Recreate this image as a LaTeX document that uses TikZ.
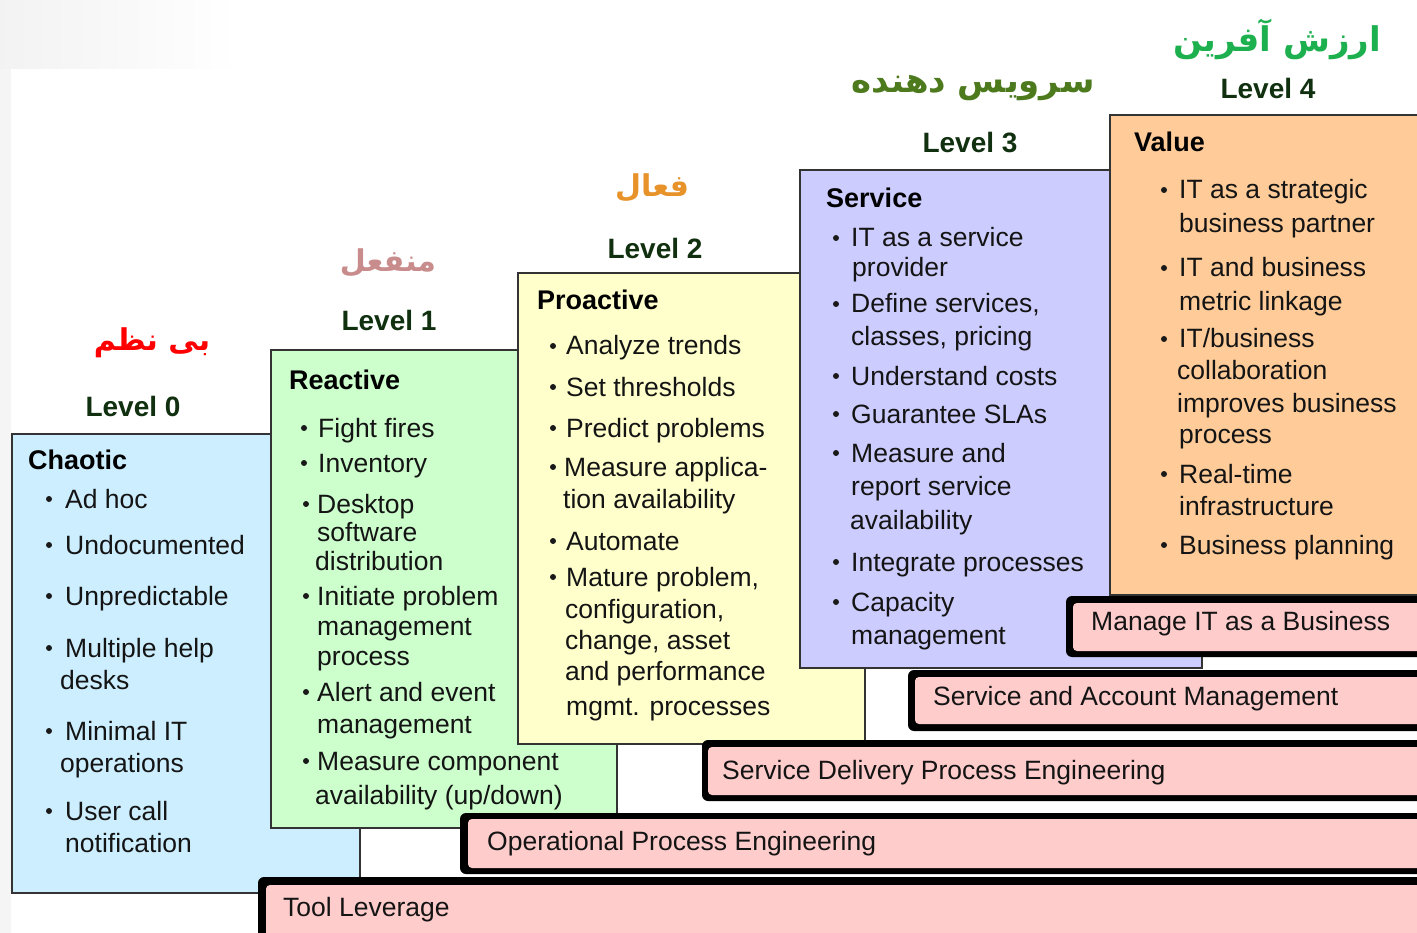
\documentclass[tikz,border=0pt]{standalone}
\usepackage{fontspec}
\setmainfont{Liberation Sans}
\newfontfamily\fa[Script=Arabic]{DejaVu Sans}
\TeXXeTstate=1
\definecolor{cblue}{HTML}{CCEEFF}
\definecolor{cgreen}{HTML}{CCFFCC}
\definecolor{cyellow}{HTML}{FFFFCC}
\definecolor{clav}{HTML}{CCCCFF}
\definecolor{corange}{HTML}{FFCC99}
\definecolor{cpink}{HTML}{FFCCCC}
\definecolor{lvl}{HTML}{103010}
\definecolor{fared}{HTML}{FF0000}
\definecolor{fapink}{HTML}{C88C8C}
\definecolor{faorange}{HTML}{E8922A}
\definecolor{faolive}{HTML}{4E7A1E}
\definecolor{fagreen}{HTML}{1DB04E}
\definecolor{bordc}{HTML}{333333}
\newcommand{\tl}[4]{\node[txt] (#1) at (#2,#3) {#4};}
\newcommand{\bul}[2]{\fill[black!90] (#1,#2) circle (3);}
\begin{document}
\begin{tikzpicture}[x=1pt,y=-1pt,
  txt/.style={anchor=base west,inner sep=0pt,font=\fontsize{26.5}{31}\selectfont,text=black!92},
  head/.style={anchor=base west,inner sep=0pt,font=\fontsize{27}{31}\selectfont\bfseries,text=black},
  lvlstyle/.style={inner sep=0pt,font=\fontsize{28}{32}\selectfont\bfseries,text=lvl},
  fastyle/.style={inner sep=0pt,font=\fontsize{34}{40}\selectfont\fa\bfseries},
  fasmall/.style={inner sep=0pt,font=\fontsize{30}{36}\selectfont\fa\bfseries},
  colbox/.style={draw=bordc,line width=1.6pt},
  barout/.style={fill=black,rounded corners=6pt},
  barin/.style={fill=cpink,rounded corners=4pt},
  bartxt/.style={anchor=west,inner sep=0pt,font=\fontsize{26.5}{31}\selectfont,text=black!92}]
\useasboundingbox (0,0) rectangle (1417,933);
% background
\fill[white] (0,0) rectangle (1417,933);
\shade[left color=black!5,right color=white] (0,0) rectangle (240,69);
\fill[black!4] (0,69) rectangle (11,933);
% column boxes
\filldraw[colbox,fill=cblue] (12,434) rectangle (360,893);
\filldraw[colbox,fill=cgreen] (271,350) rectangle (617,828);
\filldraw[colbox,fill=cyellow] (518,273) rectangle (865,744);
\filldraw[colbox,fill=clav] (800,170) rectangle (1202,668);
\filldraw[colbox,fill=corange] (1110,115) rectangle (1430,595);
% bars
\fill[barout] (1066,596) rectangle (1430,657);
\fill[barin] (1073,603) rectangle (1430,651);
\fill[barout] (908,670) rectangle (1430,731);
\fill[barin] (915,677) rectangle (1430,724);
\fill[barout] (702,740) rectangle (1430,801);
\fill[barin] (708,747) rectangle (1430,795);
\fill[barout] (460,813) rectangle (1430,874);
\fill[barin] (468,819) rectangle (1430,868);
\fill[barout] (258,877) rectangle (1430,945);
\fill[barin] (266,885) rectangle (1430,945);
\node[bartxt] (b4) at (1091,624) {Manage IT as a Business};
\node[bartxt] (b3) at (933,699) {Service and Account Management};
\node[bartxt] (b2) at (722,773) {Service Delivery Process Engineering};
\node[bartxt] (b1) at (487,844) {Operational Process Engineering};
\node[bartxt] (b0) at (283,910) {Tool Leverage};
% level labels
\node[lvlstyle] (lv0) at (133,406) {Level 0};
\node[lvlstyle] (lv1) at (389,320) {Level 1};
\node[lvlstyle] (lv2) at (655,248) {Level 2};
\node[lvlstyle] (lv3) at (970,143) {Level 3};
\node[lvlstyle] (lv4) at (1268,88) {Level 4};
\node[fasmall,text=fared] (fa0) at (152,343) {\beginR بی نظم\endR};
\node[fasmall,text=fapink] (fa1) at (388,263) {\beginR منفعل\endR};
\node[fasmall,text=faorange] (fa2) at (652,188) {\beginR فعال\endR};
\node[fastyle,text=faolive] (fa3) at (973,88) {\beginR سرویس دهنده\endR};
\node[fastyle,text=fagreen] (fa4) at (1277,39) {\beginR ارزش آفرین\endR};
% column 0
\node[head] (h0) at (28,469) {Chaotic};
\bul{49}{499}\tl{a1}{65}{508}{Ad hoc}
\bul{49}{545}\tl{a2}{65}{554}{Undocumented}
\bul{49}{596}\tl{a3}{65}{605}{Unpredictable}
\bul{49}{648}\tl{a4}{65}{657}{Multiple help}
\tl{a5}{60}{689}{desks}
\bul{49}{731}\tl{a6}{65}{740}{Minimal IT}
\tl{a7}{60}{772}{operations}
\bul{49}{811}\tl{a8}{65}{820}{User call}
\tl{a9}{65}{852}{notification}
% column 1
\node[head] (h1) at (289,389) {Reactive};
\bul{304}{428}\tl{r1}{318}{437}{Fight fires}
\bul{304}{463}\tl{r2}{318}{472}{Inventory}
\bul{306}{504}\tl{r3}{317}{513}{Desktop}
\tl{r4}{317}{541}{software}
\tl{r5}{315}{570}{distribution}
\bul{306}{596}\tl{r6}{317}{605}{Initiate problem}
\tl{r7}{317}{635}{management}
\tl{r8}{317}{665}{process}
\bul{306}{692}\tl{r9}{317}{701}{Alert and event}
\tl{r10}{317}{733}{management}
\bul{306}{761}\tl{r11}{317}{770}{Measure component}
\tl{r12}{315}{804}{availability (up/down)}
% column 2
\node[head] (h2) at (537,310) {Proactive};
\bul{553}{346}\tl{p1}{566}{355}{Analyze trends}
\bul{553}{387}\tl{p2}{566}{396}{Set thresholds}
\bul{553}{428}\tl{p3}{566}{437}{Predict problems}
\bul{553}{467}\tl{p4}{564}{476}{Measure applica-}
\tl{p5}{563}{508}{tion availability}
\bul{553}{541}\tl{p6}{566}{550}{Automate}
\bul{553}{577}\tl{p7}{566}{586}{Mature problem,}
\tl{p8}{565}{618}{configuration,}
\tl{p9}{565}{649}{change, asset}
\tl{p10}{565}{680}{and performance}
\tl{p11}{566}{715}{mgmt. processes}
% column 3
\node[head] (h3) at (826,208) {Service};
\bul{836}{238}\tl{s1}{851}{247}{IT as a service}
\tl{s2}{852}{277}{provider}
\bul{836}{304}\tl{s3}{851}{313}{Define services,}
\tl{s4}{851}{346}{classes, pricing}
\bul{836}{376}\tl{s5}{851}{385}{Understand costs}
\bul{836}{414}\tl{s6}{851}{423}{Guarantee SLAs}
\bul{836}{453}\tl{s7}{851}{462}{Measure and}
\tl{s8}{851}{495}{report service}
\tl{s9}{850}{529}{availability}
\bul{836}{562}\tl{s10}{851}{571}{Integrate processes}
\bul{836}{602}\tl{s11}{851}{611}{Capacity}
\tl{s12}{851}{644}{management}
% column 4
\node[head] (h4) at (1134,152) {Value};
\bul{1164}{190}\tl{v1}{1179}{199}{IT as a strategic}
\tl{v2}{1179}{233}{business partner}
\bul{1164}{268}\tl{v3}{1179}{277}{IT and business}
\tl{v4}{1179}{311}{metric linkage}
\bul{1164}{339}\tl{v5}{1179}{348}{IT/business}
\tl{v6}{1177}{380}{collaboration}
\tl{v7}{1177}{412}{improves business}
\tl{v8}{1179}{443}{process}
\bul{1164}{474}\tl{v9}{1179}{483}{Real-time}
\tl{v10}{1179}{515}{infrastructure}
\bul{1164}{545}\tl{v11}{1179}{554}{Business planning}
\end{tikzpicture}
\end{document}
